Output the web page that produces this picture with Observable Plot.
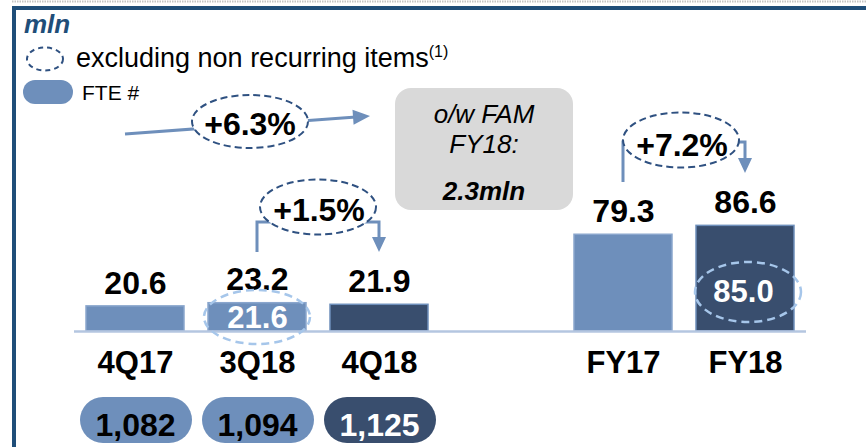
<!DOCTYPE html>
<html><head><meta charset="utf-8">
<script src="https://cdn.jsdelivr.net/npm/d3@7"></script>
<script src="https://cdn.jsdelivr.net/npm/@observablehq/plot@0.6"></script>
<style>
html,body{margin:0;padding:0;background:#fff;}
#chart svg{display:block;overflow:visible;}
</style></head><body><div id="chart"></div>
<script>
// ---- data ----
const categories = ["4Q17", "3Q18", "4Q18", "FY17", "FY18"];
const revenues = [20.6, 23.2, 21.9, 79.3, 86.6];
const tones = ["light", "light", "dark", "light", "dark"];
const recurringCats = ["3Q18", "FY18"];
const recurringValues = [21.6, 85.0];
const fteCats = ["4Q17", "3Q18", "4Q18"];
const fteValues = [1082, 1094, 1125];
const fteTones = ["light", "light", "dark"];
const growthFrom = ["4Q17", "3Q18", "FY17"];
const growthTo = ["4Q18", "4Q18", "FY18"];
const growthLabels = ["+6.3%", "+1.5%", "+7.2%"];
const noteLines = ["o/w FAM", "FY18:", "2.3mln"];
const unitLabel = "mln";
const legendDashed = "excluding non recurring items";
const legendNote = "(1)";
const legendFte = "FTE #";
const xDomain = ["4Q17", "3Q18", "4Q18", " ", "FY17", "FY18"];

// ---- styles ----
const FONT = "'Liberation Sans', Arial, Helvetica, sans-serif";
const fillOf = {light: "#6e8fbb", dark: "#394e6e"};
const outlineOf = {light: "#8aa6cd", dark: "#6e8fbb"};
const NAVY = "#1f4e79";
const DASH_DARK = "#2f5181";
const DASH_LIGHT = "#a6c6ea";
const BIG = 32;

const rows = categories.map((c, i) => ({cat: c, value: revenues[i], tone: tones[i]}));
const recRows = recurringCats.map((c, i) => ({cat: c, value: recurringValues[i]}));
const fteRows = fteCats.map((c, i) => ({cat: c, value: fteValues[i], tone: fteTones[i]}));
const growthRows = growthLabels.map((l, i) => ({from: growthFrom[i], to: growthTo[i], label: l}));

function bandCenter(x) {
  const bw = x.bandwidth ? x.bandwidth() : 0;
  return c => x(c) + bw / 2;
}

function el(g, tag, attrs) {
  const e = g.append(tag);
  for (const k in attrs) e.attr(k, attrs[k]);
  return e;
}

function arrowHead(g, tipX, tipY, angle, len, half, fill) {
  const bx = tipX - len * Math.cos(angle), by = tipY - len * Math.sin(angle);
  const px = -Math.sin(angle) * half, py = Math.cos(angle) * half;
  el(g, "path", {d: `M${tipX},${tipY}L${bx + px},${by + py}L${bx - px},${by - py}Z`, fill});
}

// frame, legend, note box
function decorMark(index, scales, values, dim) {
  const g = d3.create("svg:g").attr("font-family", FONT);
  el(g, "line", {x1: 12, x2: 866, y1: 1.5, y2: 1.5, stroke: "#c4c4c4", "stroke-width": 2, "stroke-dasharray": "1.5,1"});
  el(g, "rect", {x: 12, y: 6, width: 854, height: 4, fill: NAVY});
  el(g, "rect", {x: 12, y: 6, width: 4, height: 441, fill: NAVY});
  el(g, "text", {x: 24, y: 33, "text-anchor": "start", "font-size": 26, "font-weight": "bold", "font-style": "italic", fill: NAVY}).text(unitLabel);
  el(g, "ellipse", {cx: 45, cy: 59, rx: 18, ry: 11.5, fill: "none", stroke: DASH_DARK, "stroke-width": 2, "stroke-dasharray": "5,4"});
  const t = el(g, "text", {x: 76, y: 67, "text-anchor": "start", "font-size": 27, fill: "#000"});
  t.append("tspan").text(legendDashed);
  t.append("tspan").attr("font-size", 16).attr("dy", -10).text(legendNote);
  el(g, "rect", {x: 23, y: 80, width: 50, height: 24, rx: 12, fill: fillOf.light});
  el(g, "text", {x: 82, y: 100, "text-anchor": "start", "font-size": 21, fill: "#000"}).text(legendFte);
  // note box
  el(g, "rect", {x: 395, y: 88, width: 178, height: 122, rx: 16, fill: "#d9d9d9"});
  const centers = [113, 143, 190];
  noteLines.forEach((line, i) => {
    el(g, "text", {x: 484, y: centers[i] + 9.5, "text-anchor": "middle", "font-size": 26, "font-style": "italic",
      "font-weight": i === 2 ? "bold" : "normal", fill: "#000"}).text(line);
  });
  return g.node();
}

// growth annotations
function growthMark(index, scales, values, dim) {
  const cx = bandCenter(scales.x);
  const g = d3.create("svg:g").attr("font-family", FONT);
  const LINE = fillOf.light;
  growthRows.forEach((d, i) => {
    const a = cx(d.from), b = cx(d.to);
    let ex, ey;
    if (i === 0) {
      const x1 = a - 10, y1 = 134, x2 = b - 9, y2 = 116;
      const ang = Math.atan2(y2 - y1, x2 - x1);
      el(g, "line", {x1, y1, x2: x2 - 14 * Math.cos(ang), y2: y2 - 14 * Math.sin(ang), stroke: LINE, "stroke-width": 3});
      arrowHead(g, x2, y2, ang, 17, 7.5, LINE);
      ex = (a + b) / 2 - 7; ey = 121.5;
      el(g, "ellipse", {cx: ex, cy: ey, rx: 58, ry: 26.5, fill: "#fff", stroke: DASH_DARK, "stroke-width": 2, "stroke-dasharray": "7,4"});
      el(g, "text", {x: ex, y: 124 + 11.4, "text-anchor": "middle", "font-size": BIG, "font-weight": "bold", fill: "#000"}).text(d.label);
    } else {
      const top = i === 1 ? 222 : 142;
      const bottomL = i === 1 ? 252 : 182;
      const tip = i === 1 ? 252 : 173;
      el(g, "path", {d: `M${a},${bottomL}V${top}H${b}V${tip - 13}`, fill: "none", stroke: LINE, "stroke-width": 3});
      arrowHead(g, b, tip, Math.PI / 2, 15, 7, LINE);
      ex = (a + b) / 2 - (i === 1 ? 0 : 3);
      ey = i === 1 ? 207 : 140;
      el(g, "ellipse", {cx: ex, cy: ey, rx: 58, ry: 27.5, fill: "#fff", stroke: DASH_DARK, "stroke-width": 2, "stroke-dasharray": "7,4"});
      el(g, "text", {x: ex + 1, y: (i === 1 ? 210 : 145) + 11.4, "text-anchor": "middle", "font-size": BIG, "font-weight": "bold", fill: "#000"}).text(d.label);
    }
  });
  return g.node();
}

// dashed ellipses around recurring values
const recOffset = {"3Q18": {dx: 0, dy: -14, ry: 27}, "FY18": {dx: 3, dy: -39, ry: 30}};
function recurringRings(index, scales, values, dim) {
  const cx = bandCenter(scales.x);
  const y0 = scales.y(0);
  const g = d3.create("svg:g");
  recRows.forEach(d => {
    const o = recOffset[d.cat];
    el(g, "ellipse", {cx: cx(d.cat) + o.dx, cy: y0 + o.dy, rx: 53, ry: o.ry, fill: "none", stroke: DASH_LIGHT, "stroke-width": 2.5, "stroke-dasharray": "8,5"});
  });
  return g.node();
}

// FTE pills
function ftePills(index, scales, values, dim) {
  const cx = bandCenter(scales.x);
  const g = d3.create("svg:g");
  fteRows.forEach(d => {
    el(g, "rect", {x: cx(d.cat) - 55, y: 397, width: 112, height: 46, rx: 23, fill: fillOf[d.tone]});
  });
  return g.node();
}

const chart = Plot.plot({
  width: 866,
  height: 447,
  marginLeft: 74,
  marginRight: 60,
  marginTop: 0,
  marginBottom: 116,
  style: {fontFamily: FONT, background: "#fff", overflow: "visible"},
  x: {type: "band", domain: xDomain, paddingInner: 0.2, paddingOuter: 0.1, axis: null},
  y: {domain: [0, 100], range: [331, 209], axis: null},
  color: {type: "identity"},
  marks: [
    decorMark,
    Plot.barY(rows, {x: "cat", y: "value", fill: d => fillOf[d.tone], stroke: d => outlineOf[d.tone], strokeWidth: 1.5}),
    Plot.ruleY([0], {stroke: "#b4c6e0", strokeWidth: 2.5}),
    Plot.text(rows, {x: "cat", y: "value", text: d => d.value.toFixed(1), dy: -23, lineAnchor: "middle", fontSize: BIG, fontWeight: "bold", fill: "#000"}),
    Plot.text(rows, {x: "cat", y: 0, text: "cat", dy: 32, lineAnchor: "middle", fontSize: 31, fontWeight: "bold", fill: "#000"}),
    recurringRings,
    Plot.text(recRows.filter(d => d.cat === "3Q18"), {x: "cat", y: 0, text: d => d.value.toFixed(1), dy: -13, lineAnchor: "middle", fontSize: 31, fontWeight: "bold", fill: "#fff"}),
    Plot.text(recRows.filter(d => d.cat === "FY18"), {x: "cat", y: 0, text: d => d.value.toFixed(1), dx: -2, dy: -39, lineAnchor: "middle", fontSize: 31, fontWeight: "bold", fill: "#fff"}),
    growthMark,
    ftePills,
    Plot.text(fteRows, {x: "cat", y: 0, text: d => d3.format(",")(d.value), dy: 94, lineAnchor: "middle", fontSize: BIG, fontWeight: "bold", fill: d => d.tone === "dark" ? "#fff" : "#000"})
  ]
});
document.getElementById("chart").appendChild(chart);
</script>
</body></html>
